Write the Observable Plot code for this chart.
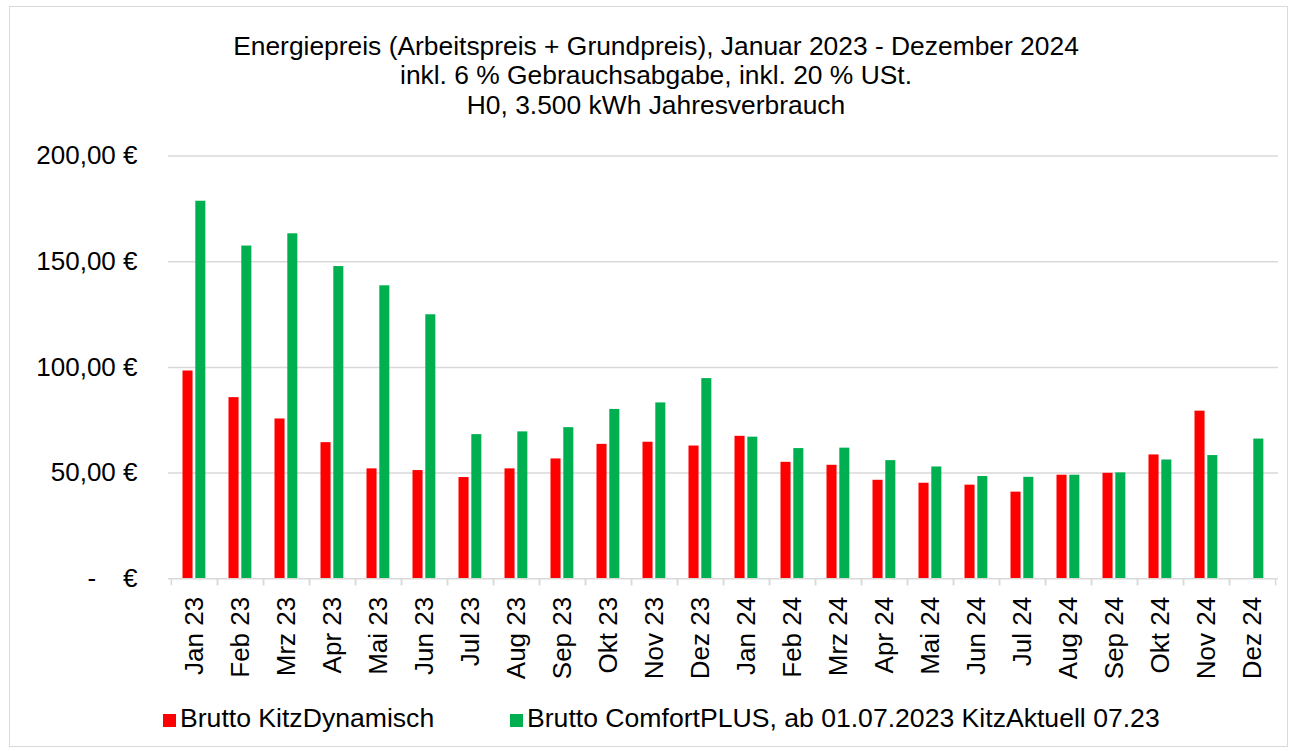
<!DOCTYPE html>
<html>
<head>
<meta charset="utf-8">
<script src="https://cdn.jsdelivr.net/npm/d3@7"></script>
<script src="https://cdn.jsdelivr.net/npm/@observablehq/plot@0.6"></script>
<style>
  html, body { margin: 0; padding: 0; background: #fff; }
  body { width: 1292px; height: 751px; position: relative; overflow: hidden; font-family: "Liberation Sans", Arial, sans-serif; color: #000; }
  #frame { position: absolute; left: 9px; top: 6px; width: 1279px; height: 741px; border: 1px solid #d9d9d9; box-sizing: border-box; }
  #title { position: absolute; left: 20px; width: 1272px; top: 31.5px; text-align: center; font-size: 26.4px; line-height: 29.5px; }
  #chart { position: absolute; left: 0; top: 0; }
  #legend { position: absolute; top: 703px; left: 0; width: 1292px; height: 30px; font-size: 26.6px; line-height: 30px; }
  .li { position: absolute; top: 0; white-space: nowrap; }
  .sw { display: inline-block; width: 13px; height: 13px; margin-right: 4px; vertical-align: 0px; }
</style>
</head>
<body>
<div id="frame"></div>
<div id="chart"></div>
<div id="title">Energiepreis (Arbeitspreis + Grundpreis), Januar 2023 - Dezember 2024<br>inkl. 6 % Gebrauchsabgabe, inkl. 20 % USt.<br>H0, 3.500 kWh Jahresverbrauch</div>
<div id="legend"></div>
<script>
const months = ["Jan 23","Feb 23","Mrz 23","Apr 23","Mai 23","Jun 23","Jul 23","Aug 23","Sep 23","Okt 23","Nov 23","Dez 23","Jan 24","Feb 24","Mrz 24","Apr 24","Mai 24","Jun 24","Jul 24","Aug 24","Sep 24","Okt 24","Nov 24","Dez 24"];
const dynamisch = [98.3,85.7,75.6,64.4,52.0,51.2,47.9,52.0,56.7,63.6,64.6,62.8,67.4,55.1,53.7,46.6,45.2,44.3,41.0,49.0,49.9,58.6,79.3,null];
const comfort = [178.6,157.4,163.2,147.7,138.6,124.9,68.2,69.5,71.5,80.1,83.2,94.7,67.0,61.6,61.8,55.9,52.9,48.4,48.0,49.0,50.1,56.2,58.3,66.1];
const seriesNames = ["Brutto KitzDynamisch", "Brutto ComfortPLUS, ab 01.07.2023 KitzAktuell 07.23"];
const seriesColors = ["#ff0000", "#00b050"];
const yTicks = [0, 50, 100, 150, 200];

const redData = months.map((m, i) => ({month: m, value: dynamisch[i]})).filter(d => d.value != null);
const greenData = months.map((m, i) => ({month: m, value: comfort[i]})).filter(d => d.value != null);

const fmt = d => d === 0 ? "-\u00a0\u00a0\u00a0\u2009€" : d.toFixed(2).replace(".", ",") + " €";

const W = 1292, H = 751;
const mL = 168, mR = 14, mT = 155.5, mB = 172.7;
const band = (W - mL - mR) / months.length;

const chart = Plot.plot({
  width: W,
  height: H,
  marginLeft: mL,
  marginRight: mR,
  marginTop: mT,
  marginBottom: mB,
  style: {fontFamily: "Liberation Sans, Arial, sans-serif", background: "transparent", overflow: "visible"},
  x: {domain: months, padding: 0, label: null},
  y: {domain: [0, 200], label: null},
  marks: [
    Plot.ruleY([50, 100, 150, 200], {stroke: "#d9d9d9", strokeWidth: 1.5}),
    Plot.barY(redData, {x: "month", y: "value", fill: seriesColors[0], insetLeft: 11.5, insetRight: band - 11.5 - 10.3}),
    Plot.barY(greenData, {x: "month", y: "value", fill: seriesColors[1], insetLeft: 24.3, insetRight: band - 24.3 - 10.3}),
    Plot.ruleY([0], {stroke: "#d9d9d9", strokeWidth: 1.5}),
    Plot.axisX({tickSize: 7, text: null, label: null, dx: -band / 2, stroke: "#d9d9d9", strokeWidth: 1.5}),
    Plot.axisX({tickSize: 7, text: null, label: null, dx: band / 2, stroke: "#d9d9d9", strokeWidth: 1.5}),
    Plot.axisX({tickSize: 0, tickPadding: 18, tickRotate: -90, fontSize: 26, label: null, fill: "#000"}),
    Plot.axisY({ticks: yTicks, tickSize: 0, tickPadding: 31, tickFormat: fmt, fontSize: 26, label: null, fill: "#000"})
  ]
});
document.getElementById("chart").appendChild(chart);

const legend = document.getElementById("legend");
const pos = [163, 510];
seriesNames.forEach((name, i) => {
  const el = document.createElement("div");
  el.className = "li";
  el.style.left = pos[i] + "px";
  const sw = document.createElement("span");
  sw.className = "sw";
  sw.style.background = seriesColors[i];
  el.appendChild(sw);
  el.appendChild(document.createTextNode(name));
  legend.appendChild(el);
});
</script>
</body>
</html>
